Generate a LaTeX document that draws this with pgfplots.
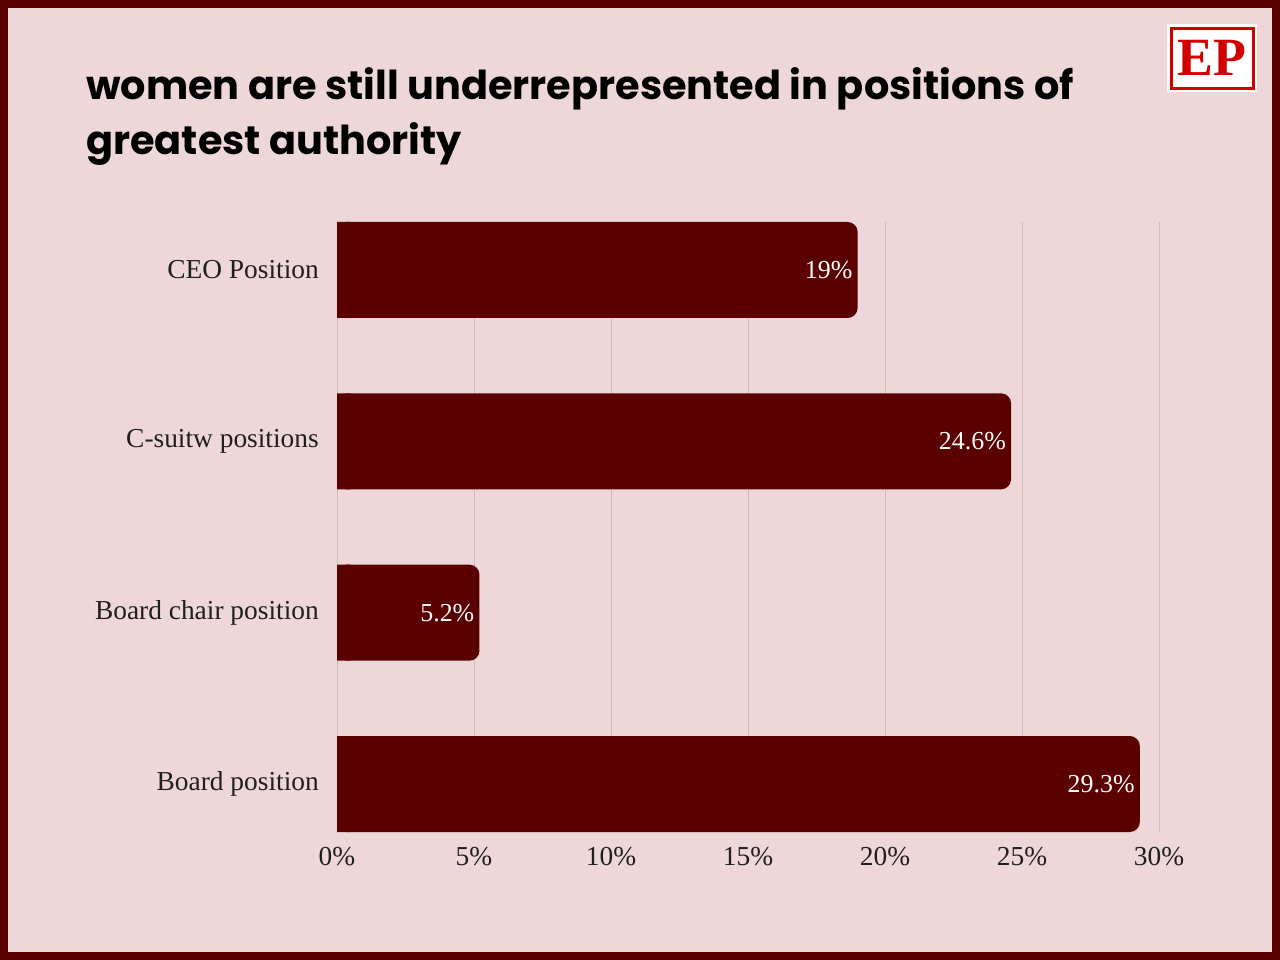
\documentclass[border=0pt]{standalone}
\usepackage{pgfplots}
\pgfplotsset{compat=1.18}
\usepackage{pgfplotstable}
\usepackage{fontspec}
\setmainfont{Liberation Serif}
\newfontfamily\titlefont{Poppins}

\definecolor{pagebg}{HTML}{EDD7D9}
\definecolor{frame}{HTML}{5A0000}
\definecolor{barred}{HTML}{5A0000}
\definecolor{gridgray}{HTML}{C9BDBE}
\definecolor{logored}{HTML}{D00000}

% share of positions held by women
\pgfplotstableread{
idx v
0 19
1 24.6
2 5.2
3 29.3
}\sharetable

\begin{document}
\begin{tikzpicture}
% page frame and background
\fill[frame] (0,0) rectangle (1280bp,960bp);
\fill[pagebg] (8bp,8bp) rectangle (1272bp,952bp);

% title
\node[anchor=base west, inner sep=0pt] at (86bp,860bp)
  {\titlefont\bfseries\fontsize{40}{48}\selectfont women are still underrepresented in positions of};
\node[anchor=base west, inner sep=0pt] at (86bp,805bp)
  {\titlefont\bfseries\fontsize{40}{48}\selectfont greatest authority};

% logo
\fill[white] (1167bp,868bp) rectangle (1257bp,936bp);
\draw[logored, line width=3bp] (1171.5bp,871.5bp) rectangle (1253.5bp,931.5bp);
\node[inner sep=0pt, text=logored] at (1212bp,902bp)
  {\bfseries\fontsize{54}{54}\selectfont EP};

\begin{axis}[
  at={(337bp,128bp)}, anchor=south west,
  scale only axis, width=822bp, height=610bp,
  xmin=0, xmax=30, ymin=-0.28, ymax=3.28,
  y dir=reverse,
  axis line style={draw=none},
  major tick length=0pt,
  xtick={0,5,...,30},
  xticklabel={\pgfmathprintnumber{\tick}\%},
  ytick={0,1,2,3},
  yticklabels={CEO Position, C-suitw positions, Board chair position, Board position},
  xmajorgrids,
  major grid style={draw=gridgray, line width=1bp},
  /pgf/number format/assume math mode=true,
  tick label style={font=\fontsize{27.5}{32}\selectfont, text=black!88},
  xticklabel style={anchor=north, inner sep=0pt, yshift=-15bp},
  yticklabel style={anchor=east, inner sep=0pt, xshift=-18bp},
  xbar, bar width=96bp,
]
% square left ends of the bars
\addplot[xbar, bar shift=0pt, fill=barred, draw=none]
  table[x expr={min(\thisrow{v},0.5)}, y=idx] {\sharetable};
% bars with rounded right ends and value labels
\addplot[xbar, bar shift=0pt, fill=barred, draw=none, rounded corners=10bp,
  nodes near coords={\pgfmathprintnumber{\pgfplotspointmeta}\%},
  nodes near coords style={anchor=east, xshift=-5bp, text=white!95!pink,
    font=\fontsize{26}{30}\selectfont, inner sep=0pt},
  point meta=x]
  table[x=v, y=idx] {\sharetable};
\end{axis}
\end{tikzpicture}
\end{document}
